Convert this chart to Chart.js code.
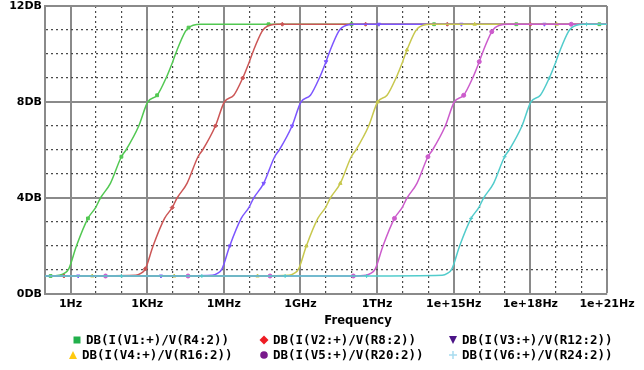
<!DOCTYPE html>
<html>
<head>
<meta charset="utf-8">
<script src="https://cdn.jsdelivr.net/npm/chart.js@4.4.0/dist/chart.umd.min.js"></script>
<style>
  html, body { margin: 0; padding: 0; background: #fff; }
  #wrap { width: 644px; height: 370px; }
</style>
</head>
<body>
<div id="wrap"><canvas id="chart" width="644" height="370"></canvas></div>
<script>
// tick labels
const freqLabels = ['1Hz', '1KHz', '1MHz', '1GHz', '1THz', '1e+15Hz', '1e+18Hz', '1e+21Hz'];
const seriesNames = [
  'DB(I(V1:+)/V(R4:2))', 'DB(I(V2:+)/V(R8:2))', 'DB(I(V3:+)/V(R12:2))',
  'DB(I(V4:+)/V(R16:2))', 'DB(I(V5:+)/V(R20:2))', 'DB(I(V6:+)/V(R24:2))'
];

// levels (dB)
const lowDb = 0.75;
const topDb = 11.24;
const riseDb = [0.78, 0.86, 1.05, 2.0, 3.15, 3.6, 4.0, 4.61, 5.72, 6.0, 7.0, 8.0, 8.28, 9.0, 9.68, 10.17, 10.93, 11.1, 11.2, 11.24];

// frequencies as powers of ten: low markers, rising part, high markers
const v1Low = [-0.78];
const v1Rise = [-0.45, -0.25, -0.07, 0.23, 0.68, 0.98, 1.17, 1.56, 1.99, 2.17, 2.67, 3.02, 3.39, 3.74, 4.0, 4.17, 4.49, 4.62, 4.8, 5.1];
const v1High = [7.75, 11.0, 14.23, 17.45, 20.7];
const v1Marks = [4, 8, 12, 17];

const v2Low = [-0.26];
const v2Rise = [2.55, 2.75, 2.93, 3.23, 3.68, 3.98, 4.17, 4.56, 4.99, 5.17, 5.67, 6.02, 6.39, 6.74, 7.0, 7.17, 7.49, 7.62, 7.8, 8.1];
const v2High = [8.29, 11.55, 14.75, 18.0];
const v2Marks = [2, 5, 10, 13];

const v3Low = [0.3, 3.54];
const v3Rise = [5.55, 5.75, 5.93, 6.23, 6.68, 6.98, 7.17, 7.56, 7.99, 8.17, 8.67, 9.02, 9.39, 9.74, 10.0, 10.17, 10.49, 10.62, 10.8, 11.1];
const v3High = [12.07, 15.3, 18.55];
const v3Marks = [3, 7, 10, 14];

const v4Low = [0.85, 4.06, 7.32];
const v4Rise = [8.55, 8.75, 8.93, 9.23, 9.68, 9.98, 10.17, 10.56, 10.99, 11.17, 11.67, 12.02, 12.39, 12.74, 13.0, 13.17, 13.49, 13.62, 13.8, 14.1];
const v4High = [15.82, 19.03];
const v4Marks = [3, 7, 11, 15];

const v5Low = [1.37, 4.6, 7.81, 11.07];
const v5Rise = [11.55, 11.75, 11.93, 12.23, 12.68, 12.98, 13.17, 13.56, 13.99, 14.17, 14.67, 15.02, 15.39, 15.74, 16.0, 16.17, 16.49, 16.62, 16.8, 17.1];
const v5High = [19.6];
const v5Marks = [4, 8, 12, 14, 16];

const v6Low = [1.99, 5.14, 8.4, 11.59];
const v6Rise = [14.55, 14.75, 14.93, 15.23, 15.68, 15.98, 16.17, 16.56, 16.99, 17.17, 17.67, 18.02, 18.39, 18.74, 19.0, 19.17, 19.49, 19.62, 19.8, 20.1];
const v6High = [20.2];
const v6Marks = [4, 8, 13];

const traceColors = ['#52c852', '#cc5656', '#7c56ff', '#c8c84e', '#cc5ccc', '#52cccc'];
const legendColors = ['#22b04c', '#ee1c24', '#4b1487', '#ffc90e', '#7a1a8c', '#a8dcf0'];
const pointStyles = ['rect', 'rectRot', 'triangle', 'triangle', 'circle', 'cross'];
const pointRotations = [0, 0, 180, 0, 0, 0];

function buildTrace(low, rise, high, marks) {
  const pts = [{ x: 0.1, y: lowDb }];
  low.forEach(e => pts.push({ x: Math.pow(10, e), y: lowDb, m: true }));
  rise.forEach((e, i) => pts.push({ x: Math.pow(10, e), y: riseDb[i], m: marks.includes(i) }));
  high.forEach(e => pts.push({ x: Math.pow(10, e), y: topDb, m: true }));
  pts.push({ x: 1e21, y: topDb });
  return pts;
}

const traces = [
  buildTrace(v1Low, v1Rise, v1High, v1Marks),
  buildTrace(v2Low, v2Rise, v2High, v2Marks),
  buildTrace(v3Low, v3Rise, v3High, v3Marks),
  buildTrace(v4Low, v4Rise, v4High, v4Marks),
  buildTrace(v5Low, v5Rise, v5High, v5Marks),
  buildTrace(v6Low, v6Rise, v6High, v6Marks)
];

const datasets = traces.map((pts, i) => ({
  label: seriesNames[i],
  data: pts,
  borderColor: traceColors[i],
  backgroundColor: traceColors[i],
  borderWidth: 1.5,
  cubicInterpolationMode: 'monotone',
  pointStyle: pointStyles[i],
  rotation: pointRotations[i],
  pointRadius: ctx => (ctx.raw && ctx.raw.m) ? 2 : 0,
  pointBorderWidth: 1,
  order: 5 - i
}));

function drawSymbol(c, i, x, y) {
  c.fillStyle = legendColors[i];
  c.strokeStyle = legendColors[i];
  c.beginPath();
  if (i === 0) {
    c.rect(x - 3.5, y - 3.5, 7, 7);
    c.fill();
  } else if (i === 1) {
    c.moveTo(x, y - 4.5); c.lineTo(x + 4.5, y); c.lineTo(x, y + 4.5); c.lineTo(x - 4.5, y);
    c.closePath(); c.fill();
  } else if (i === 2) {
    c.moveTo(x - 4, y - 4); c.lineTo(x + 4, y - 4); c.lineTo(x, y + 4);
    c.closePath(); c.fill();
  } else if (i === 3) {
    c.moveTo(x - 4, y + 4); c.lineTo(x + 4, y + 4); c.lineTo(x, y - 4);
    c.closePath(); c.fill();
  } else if (i === 4) {
    c.arc(x, y, 3.8, 0, Math.PI * 2);
    c.fill();
  } else {
    c.lineWidth = 1.5;
    c.moveTo(x - 4, y); c.lineTo(x + 4, y);
    c.moveTo(x, y - 4); c.lineTo(x, y + 4);
    c.stroke();
  }
}

// legend and axis title drawn under the plot
const legendTextX = [[86, 273, 462], [82, 273, 462]];
const pspiceLegend = {
  id: 'pspiceLegend',
  afterDraw(chart) {
    const c = chart.ctx;
    c.save();
    c.fillStyle = '#000';
    c.font = 'bold 11.5px "DejaVu Sans"';
    c.textAlign = 'center';
    c.textBaseline = 'middle';
    c.fillText('Frequency', 358, 321);
    c.font = 'bold 12.5px "DejaVu Sans Mono"';
    c.textAlign = 'left';
    seriesNames.forEach((name, i) => {
      const row = Math.floor(i / 3), col = i % 3;
      const tx = legendTextX[row][col];
      const ty = 340 + row * 15;
      drawSymbol(c, i, tx - 9, ty);
      c.fillStyle = '#000';
      c.fillText(name, tx, ty + 1);
    });
    c.restore();
  }
};

const whiteBg = {
  id: 'whiteBg',
  beforeDraw(chart) {
    const c = chart.ctx;
    c.save();
    c.fillStyle = '#fff';
    c.fillRect(0, 0, chart.width, chart.height);
    c.restore();
  }
};

const decadeExp = v => Math.round(Math.log10(v));

new Chart(document.getElementById('chart'), {
  type: 'line',
  data: { datasets },
  plugins: [whiteBg, pspiceLegend],
  options: {
    responsive: false,
    devicePixelRatio: 1,
    animation: false,
    layout: { padding: { top: 6, right: 37, left: 0, bottom: 0 } },
    plugins: { legend: { display: false }, tooltip: { enabled: false } },
    scales: {
      x: {
        type: 'logarithmic',
        min: 0.1,
        max: 1e21,
        afterBuildTicks: scale => {
          const t = [];
          for (let e = -1; e <= 21; e++) t.push({ value: Math.pow(10, e) });
          scale.ticks = t;
        },
        afterFit: scale => {
          scale.height = 76;
          scale.paddingLeft = 0;
          scale.paddingRight = 0;
        },
        grid: {
          drawTicks: false,
          color: ctx => {
            const e = decadeExp(ctx.tick.value);
            return (e >= 0 && e % 3 === 0) ? '#8a8a8a' : '#4a4a4a';
          },
          lineWidth: ctx => {
            const e = decadeExp(ctx.tick.value);
            return (e >= 0 && e % 3 === 0) ? 2 : 1.2;
          }
        },
        border: {
          color: '#8a8a8a',
          width: 2,
          dash: ctx => {
            if (!ctx.tick) return [];
            const e = decadeExp(ctx.tick.value);
            return (e >= 0 && e % 3 === 0) ? [] : [2, 3];
          }
        },
        ticks: {
          autoSkip: false,
          maxRotation: 0,
          padding: 4,
          color: '#000',
          font: { family: 'DejaVu Sans', size: 11, weight: 'bold' },
          callback: v => {
            const e = decadeExp(v);
            return (e >= 0 && e % 3 === 0) ? freqLabels[e / 3] : '';
          }
        }
      },
      y: {
        min: 0,
        max: 12,
        afterFit: scale => {
          scale.width = 45;
          scale.paddingTop = 0;
          scale.paddingBottom = 0;
        },
        grid: {
          drawTicks: false,
          color: ctx => (ctx.tick.value % 4 === 0) ? '#8a8a8a' : '#4a4a4a',
          lineWidth: ctx => (ctx.tick.value % 4 === 0) ? 2 : 1.2
        },
        border: {
          color: '#8a8a8a',
          width: 2,
          dash: ctx => {
            if (!ctx.tick) return [];
            return (ctx.tick.value % 4 === 0) ? [] : [2, 3];
          }
        },
        ticks: {
          stepSize: 1,
          autoSkip: false,
          padding: 3,
          color: '#000',
          font: { family: 'DejaVu Sans', size: 11, weight: 'bold' },
          callback: v => (v % 4 === 0) ? v + 'DB' : ''
        }
      }
    }
  }
});
</script>
</body>
</html>
